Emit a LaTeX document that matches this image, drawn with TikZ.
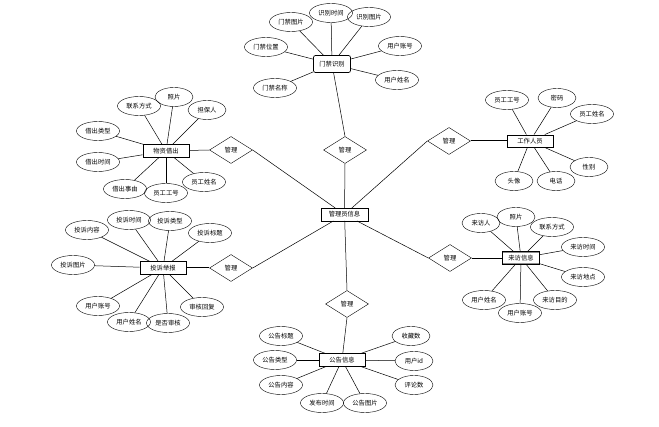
\documentclass[tikz,border=0pt]{standalone}
\usepackage{fontspec}
\newfontfamily\cjk{Noto Sans CJK SC}
\usetikzlibrary{shapes.geometric}
\begin{document}
\begin{tikzpicture}[x=1pt,y=-1pt,
  every node/.style={font=\cjk\fontsize{6.3}{7}\selectfont},
  attr/.style={draw,ellipse,minimum width=43pt,minimum height=19pt,inner sep=0.5pt},
  sattr/.style={attr,minimum width=38pt},
  ent/.style={draw,rectangle,minimum width=46pt,minimum height=12.5pt,inner sep=1.5pt},
  rel/.style={draw,diamond,minimum width=43pt,minimum height=27pt,inner sep=0pt,aspect=1.6},
  ln/.style={draw,line width=0.5pt},
  tk/.style={draw,line width=1pt}]
\useasboundingbox (0,0) rectangle (659,427);
% center
\node[ent,minimum width=47pt] (adm) at (344.5,214.5) {管理员信息};
% top: 门禁识别
\node[ent,rounded corners=2pt,minimum width=37pt,minimum height=17pt,line width=0.7pt] (mj) at (332,64) {门禁识别};
\node[attr] (mj1) at (291,22) {门禁图片};
\node[attr] (mj2) at (331,13) {识别时间};
\node[attr] (mj3) at (369,17) {识别图片};
\node[attr] (mj4) at (266,47) {门禁位置};
\node[attr] (mj5) at (400,46) {用户账号};
\node[attr] (mj6) at (275,88) {门禁名称};
\node[attr] (mj7) at (397,80) {用户姓名};
\foreach \i in {1,...,7} \draw[ln] (mj\i) -- (mj);
\node[rel] (dt) at (345,150) {管理};
\draw[ln] (mj) -- (dt.north);
\draw[ln] (dt.south) -- (adm);
% left top: 物资借出
\node[ent,line width=0.8pt] (wz) at (166,151) {物资借出};
\node[attr] (wz1) at (139,106) {联系方式};
\node[sattr] (wz2) at (174,97) {照片};
\node[sattr] (wz3) at (207,110) {担保人};
\node[attr] (wz4) at (98,131) {借出类型};
\node[attr] (wz5) at (98,162) {借出时间};
\node[attr] (wz6) at (125,189) {借出事由};
\node[attr] (wz8) at (204,182) {员工姓名};
\node[attr] (wz7) at (166,193) {员工工号};
\foreach \i in {1,...,8} \draw[ln] (wz\i) -- (wz);
\node[rel] (dl1) at (231,150) {管理};
\draw[ln] (wz) -- (dl1.west);
\draw[ln] (dl1.east) -- (adm);
% left bottom: 投诉举报
\node[ent,line width=0.8pt] (ts) at (163,268) {投诉举报};
\node[attr] (ts1) at (87,230) {投诉内容};
\node[attr] (ts2) at (129,220) {投诉时间};
\node[attr] (ts3) at (170,221) {投诉类型};
\node[attr] (ts4) at (210,233) {投诉标题};
\node[attr] (ts5) at (73,265) {投诉图片};
\node[attr] (ts6) at (98,306) {用户账号};
\node[attr] (ts7) at (129,322) {用户姓名};
\node[attr] (ts9) at (202,307) {审核回复};
\node[attr] (ts8) at (168,323) {是否审核};
\foreach \i in {1,...,9} \draw[ln] (ts\i) -- (ts);
\node[rel] (dl2) at (231,268) {管理};
\draw[tk] (ts) -- (dl2.west);
\draw[ln] (dl2.east) -- (adm);
% right top: 工作人员
\node[ent] (gz) at (530,141) {工作人员};
\node[attr] (gz1) at (507,100) {员工工号};
\node[sattr] (gz2) at (557,98) {密码};
\node[attr] (gz3) at (592,114) {员工姓名};
\node[sattr] (gz4) at (589,167) {性别};
\node[sattr] (gz5) at (556,181) {电话};
\node[sattr] (gz6) at (514,181) {头像};
\foreach \i in {1,...,6} \draw[ln] (gz\i) -- (gz);
\node[rel] (dr1) at (449,141) {管理};
\draw[tk] (gz) -- (dr1.east);
\draw[ln] (dr1.west) -- (adm);
% right bottom: 来访信息
\node[ent,minimum width=37pt,draw=black!45,line width=0.6pt,double=black,double distance=0.5pt] (lf) at (521,258) {来访信息};
\node[sattr] (lf1) at (481,223) {来访人};
\node[sattr] (lf2) at (516,217) {照片};
\node[attr] (lf3) at (552,227) {联系方式};
\node[attr] (lf4) at (583,247) {来访时间};
\node[attr] (lf5) at (583,277) {来访地点};
\node[attr] (lf6) at (555,300) {来访目的};
\node[attr] (lf8) at (484,300) {用户姓名};
\node[attr] (lf7) at (520,313) {用户账号};
\foreach \i in {1,...,8} \draw[ln] (lf\i) -- (lf);
\node[rel] (dr2) at (450,258) {管理};
\draw[ln] (lf) -- (dr2.east);
\draw[ln] (dr2.west) -- (adm);
% bottom: 公告信息
\node[ent,line width=0.8pt] (gg) at (342,360) {公告信息};
\node[attr] (gg1) at (281,336) {公告标题};
\node[attr] (gg2) at (275,360) {公告类型};
\node[attr] (gg3) at (281,385) {公告内容};
\node[attr] (gg4) at (322,403) {发布时间};
\node[attr] (gg5) at (365,403) {公告图片};
\node[sattr] (gg6) at (411,336) {收藏数};
\node[sattr] (gg7) at (414,361) {用户id};
\node[sattr] (gg8) at (414,385) {评论数};
\foreach \i in {1,...,8} \draw[ln] (gg\i) -- (gg);
\node[rel] (db) at (347,304) {管理};
\draw[ln] (gg) -- (db.south);
\draw[ln] (db.north) -- (adm);
\end{tikzpicture}
\end{document}
